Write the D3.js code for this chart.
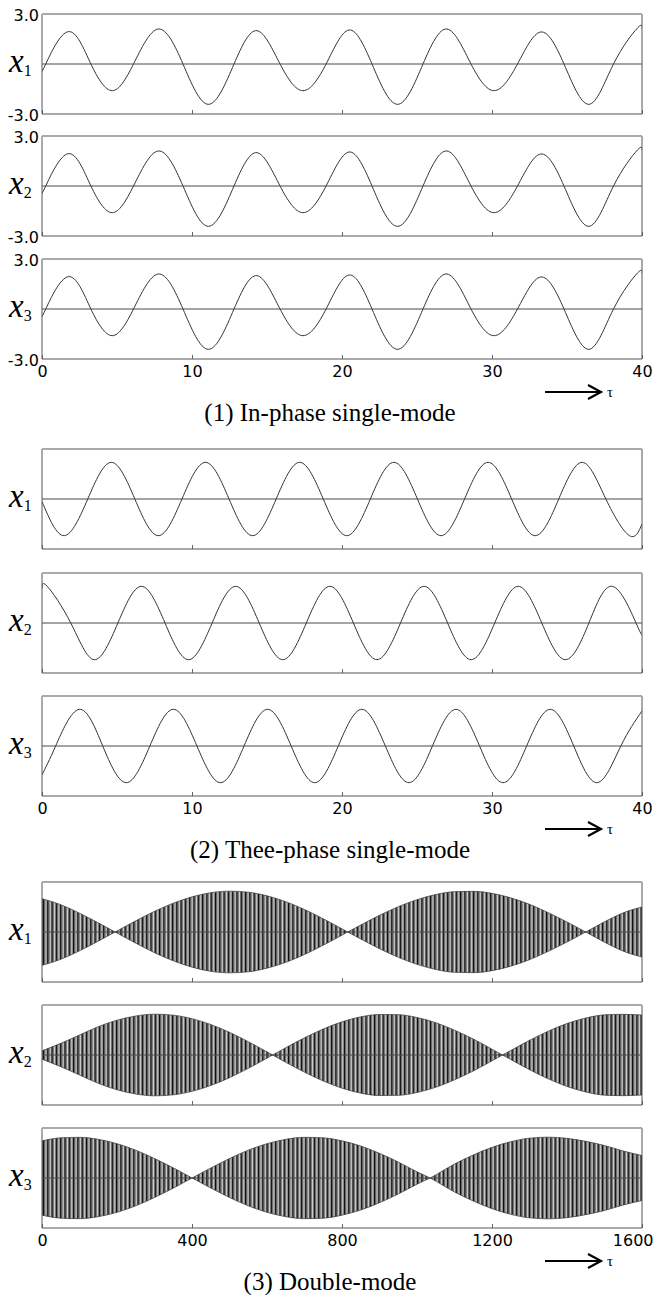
<!DOCTYPE html>
<html>
<head>
<meta charset="utf-8">
<script src="https://cdn.jsdelivr.net/npm/d3@7"></script>
<style>
  body { margin: 0; background: #fff; }
  svg { display: block; }
</style>
</head>
<body>
<svg id="chart"></svg>
<script>
// (1) in-phase: the three traces are the same curve, [tau, x] at extrema and zero crossings
const inPhase = [
  [0, -0.36], [0.25, 0], [1.75, 1.94], [3.26, 0], [4.68, -1.6], [6.1, 0],
  [7.75, 2.1], [9.4, 0], [11.1, -2.42], [12.8, 0], [14.33, 2.0], [15.87, 0],
  [17.4, -1.6], [18.94, 0], [20.47, 2.04], [22.0, 0], [23.7, -2.42], [25.4, 0],
  [27.0, 2.1], [28.6, 0], [30.15, -1.6], [31.7, 0], [33.25, 1.92], [34.8, 0],
  [36.45, -2.42], [38.1, 0], [39.7, 2.16], [40, 2.14]
]

// (2) three-phase single-mode
const threePhaseX1 = [
  [0, -0.15], [1.48, -2.2], [3.05, 0], [4.62, 2.2], [6.19, 0], [7.76, -2.2],
  [9.33, 0], [10.9, 2.2], [12.47, 0], [14.04, -2.2], [15.61, 0], [17.18, 2.2],
  [18.75, 0], [20.32, -2.2], [21.89, 0], [23.46, 2.2], [25.03, 0], [26.6, -2.2],
  [28.17, 0], [29.74, 2.2], [31.31, 0], [32.88, -2.2], [34.45, 0], [36.02, 2.2],
  [37.59, 0], [39.16, -2.2], [40, -1.5]
]
const threePhaseX2 = [
  [0, 2.1], [0.35, 2.2], [1.92, 0], [3.49, -2.2], [5.06, 0], [6.63, 2.2],
  [8.2, 0], [9.77, -2.2], [11.34, 0], [12.91, 2.2], [14.48, 0], [16.05, -2.2],
  [17.62, 0], [19.19, 2.2], [20.76, 0], [22.33, -2.2], [23.9, 0], [25.47, 2.2],
  [27.04, 0], [28.61, -2.2], [30.18, 0], [31.75, 2.2], [33.32, 0], [34.89, -2.2],
  [36.46, 0], [38.03, 2.2], [39.6, 0], [40, -0.7]
]
const threePhaseX3 = [
  [0, -1.73], [0.91, 0], [2.48, 2.2], [4.05, 0], [5.62, -2.2], [7.19, 0],
  [8.76, 2.2], [10.33, 0], [11.9, -2.2], [13.47, 0], [15.04, 2.2], [16.61, 0],
  [18.18, -2.2], [19.75, 0], [21.32, 2.2], [22.89, 0], [24.46, -2.2], [26.03, 0],
  [27.6, 2.2], [29.17, 0], [30.74, -2.2], [32.31, 0], [33.88, 2.2], [35.45, 0],
  [37.02, -2.2], [38.59, 0], [40, 2.1]
]

// (3) double-mode: beat envelope of the fast oscillation, [tau, amplitude],
// sign flips at each node so the band pinches to a point there
const doubleEnvX1 = [
  [0, 2.0], [50, 1.64], [100, 1.13], [150, 0.55], [195, 0], [250, -0.67], [300, -1.24],
  [350, -1.73], [400, -2.11], [450, -2.36], [500, -2.45], [550, -2.39], [600, -2.17],
  [650, -1.82], [700, -1.35], [750, -0.79], [800, -0.19], [815, 0], [850, 0.42], [900, 1.0],
  [950, 1.52], [1000, 1.94], [1050, 2.25], [1100, 2.42], [1150, 2.44], [1200, 2.32],
  [1250, 2.05], [1300, 1.66], [1350, 1.16], [1400, 0.6], [1450, 0], [1500, -0.61],
  [1550, -1.15], [1600, -1.5]
]
const doubleEnvX2 = [
  [0, 0.25], [50, 0.7], [100, 1.2], [150, 1.7], [200, 2.09], [250, 2.34], [300, 2.45],
  [350, 2.39], [400, 2.18], [450, 1.83], [500, 1.36], [550, 0.8], [600, 0.19], [615, 0],
  [650, -0.44], [700, -1.03], [750, -1.56], [800, -1.99], [850, -2.29], [900, -2.43],
  [950, -2.42], [1000, -2.25], [1050, -1.94], [1100, -1.49], [1150, -0.96], [1200, -0.35],
  [1228, 0], [1250, 0.27], [1300, 0.88], [1350, 1.43], [1400, 1.89], [1450, 2.22],
  [1500, 2.41], [1550, 2.44], [1600, 2.4]
]
const doubleEnvX3 = [
  [0, 2.23], [50, 2.41], [100, 2.44], [150, 2.32], [200, 2.06], [250, 1.67], [300, 1.17],
  [350, 0.61], [400, 0], [450, -0.6], [500, -1.17], [550, -1.67], [600, -2.06], [650, -2.32],
  [700, -2.44], [750, -2.41], [800, -2.23], [850, -1.92], [900, -1.48], [950, -0.96],
  [1000, -0.37], [1035, 0], [1100, 0.84], [1150, 1.38], [1200, 1.84], [1250, 2.18],
  [1300, 2.39], [1350, 2.45], [1400, 2.38], [1450, 2.2], [1500, 1.95], [1550, 1.62], [1600, 1.35]
]

const ticksSingle = [0, 10, 20, 30, 40]
const ticksDouble = [0, 400, 800, 1200, 1600]
const yTickLabels = ["3.0", "-3.0"]
const captions = ["(1) In-phase single-mode", "(2) Thee-phase single-mode", "(3) Double-mode"]

const width = 654, height = 1295
const left = 42, right = 642, panelH = 100

const groups = [
  { tops: [14, 136, 259], domain: [0, 40], ticks: ticksSingle, yLabels: true,
    series: [inPhase, inPhase, inPhase], kind: "line" },
  { tops: [449, 573, 696], domain: [0, 40], ticks: ticksSingle, yLabels: false,
    series: [threePhaseX1, threePhaseX2, threePhaseX3], kind: "line" },
  { tops: [882, 1005, 1128], domain: [0, 1600], ticks: ticksDouble, yLabels: false,
    series: [doubleEnvX1, doubleEnvX2, doubleEnvX3], kind: "band" }
]

const svg = d3.select("#chart").attr("width", width).attr("height", height)
svg.append("rect").attr("width", width).attr("height", height).attr("fill", "#fff")

// hatch used to fake the very dense oscillation of the double-mode traces
const defs = svg.append("defs")
const pat = defs.append("pattern")
  .attr("id", "osc")
  .attr("patternUnits", "userSpaceOnUse")
  .attr("width", 4.3).attr("height", 10)
pat.append("rect").attr("width", 4.3).attr("height", 10).attr("fill", "#7d7d7d")
pat.append("rect").attr("x", 0).attr("width", 1.1).attr("height", 10).attr("fill", "#0a0a0a")
pat.append("rect").attr("x", 2.5).attr("width", 0.8).attr("height", 10).attr("fill", "#e2e2e2")

const y = d3.scaleLinear().domain([-3, 3]).range([panelH, 0])
const tickFont = "'DejaVu Sans', Verdana, sans-serif"

groups.forEach((grp, gi) => {
  const x = d3.scaleLinear().domain(grp.domain).range([left, right])

  grp.tops.forEach((top, pi) => {
    const g = svg.append("g").attr("transform", `translate(0,${top})`)
    const clipId = `clip-${gi}-${pi}`
    defs.append("clipPath").attr("id", clipId)
      .append("rect").attr("x", left).attr("y", 0).attr("width", right - left).attr("height", panelH)

    if (grp.kind === "line") {
      const line = d3.line()
        .x(d => x(d[0]))
        .y(d => y(d[1]))
        .curve(d3.curveNatural)
      g.append("path")
        .attr("clip-path", `url(#${clipId})`)
        .attr("d", line(grp.series[pi]))
        .attr("fill", "none")
        .attr("stroke", "#333")
        .attr("stroke-width", 1)
    } else {
      const area = d3.area()
        .x(d => x(d[0]))
        .y0(d => y(-d[1]))
        .y1(d => y(d[1]))
        .curve(d3.curveMonotoneX)
      g.append("path")
        .attr("clip-path", `url(#${clipId})`)
        .attr("d", area(grp.series[pi]))
        .attr("fill", "url(#osc)")
        .attr("stroke", "#333")
        .attr("stroke-width", 0.7)
    }

    // zero line
    g.append("line")
      .attr("x1", left).attr("x2", right)
      .attr("y1", y(0)).attr("y2", y(0))
      .attr("stroke", "#4a4a4a").attr("stroke-width", 1)

    // inward ticks, labels only under the last panel of a group
    const axis = d3.axisBottom(x).tickValues(grp.ticks).tickSize(-4).tickPadding(7)
      .tickFormat(d3.format("d"))
    const isLast = pi === grp.tops.length - 1
    if (!isLast) axis.tickFormat("")
    const ax = g.append("g").attr("transform", `translate(0,${panelH})`).call(axis)
    ax.select(".domain").remove()
    ax.selectAll(".tick line").attr("stroke", "#666")
    ax.selectAll(".tick text")
      .attr("font-family", tickFont)
      .attr("font-size", 16)
      .attr("fill", "#000")
    // keep the right-most label inside the page
    ax.selectAll(".tick text")
      .filter(d => d === grp.domain[1] && d >= 1000)
      .attr("text-anchor", "end")
      .attr("x", width - 1 - right)

    // frame
    g.append("path")
      .attr("d", `M${left},0V${panelH}H${right}V0`)
      .attr("fill", "none").attr("stroke", "#555").attr("stroke-width", 1)
    g.append("line")
      .attr("x1", left).attr("x2", right).attr("y1", 0).attr("y2", 0)
      .attr("stroke", "#aaa").attr("stroke-width", 2)

    if (grp.yLabels) {
      g.selectAll(".ylab")
        .data(yTickLabels)
        .join("text")
        .attr("x", 39)
        .attr("y", (d, i) => (i === 0 ? 0 : panelH) + 2)
        .attr("text-anchor", "end")
        .attr("dominant-baseline", "middle")
        .attr("font-family", tickFont)
        .attr("font-size", 16)
        .text(d => d)
    }

    // x_i label
    const lab = g.append("text")
      .attr("x", 9)
      .attr("y", y(0) + 8)
      .attr("font-family", "'Liberation Serif', 'Times New Roman', serif")
    lab.append("tspan").attr("font-style", "italic").attr("font-size", 33).text("x")
    lab.append("tspan").attr("font-size", 16).attr("dy", 4).text(pi + 1)
  })

  const bottom = grp.tops[2] + panelH

  // arrow with tau
  const ay = bottom + 33
  const arrow = svg.append("g")
  arrow.append("line")
    .attr("x1", 545).attr("x2", 600).attr("y1", ay).attr("y2", ay)
    .attr("stroke", "#000").attr("stroke-width", 2)
  arrow.append("path")
    .attr("d", `M588,${ay - 7}L601,${ay}L588,${ay + 7}`)
    .attr("fill", "none").attr("stroke", "#000").attr("stroke-width", 2.2)
  arrow.append("text")
    .attr("x", 607).attr("y", ay + 5)
    .attr("font-family", "'Liberation Serif', serif")
    .attr("font-size", 15)
    .text("τ")

  svg.append("text")
    .attr("x", 330)
    .attr("y", bottom + 62)
    .attr("text-anchor", "middle")
    .attr("font-family", "'Liberation Serif', 'Times New Roman', serif")
    .attr("font-size", 25)
    .text(captions[gi])
})
</script>
</body>
</html>
